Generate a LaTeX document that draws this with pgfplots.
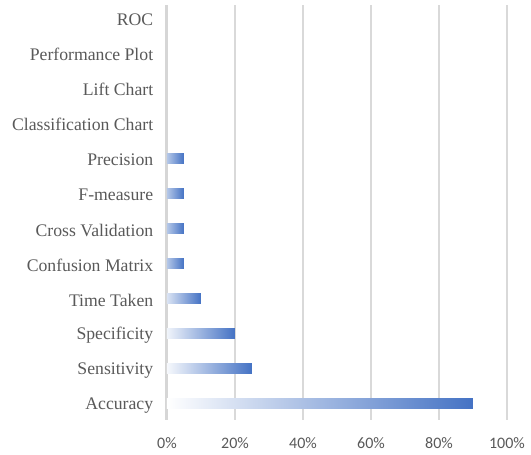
\documentclass[border=0pt]{standalone}
\usepackage{fontspec}
\setmainfont{Liberation Serif}
\newfontfamily\tnr{Liberation Serif}
\newfontfamily\calibri{Carlito}
\usepackage{pgfplots}
\pgfplotsset{compat=1.18}
\definecolor{barblue}{HTML}{4472C4}
\definecolor{gridgray}{HTML}{D9D9D9}
\definecolor{axgray}{HTML}{D6D6D6}
\definecolor{txtgray}{HTML}{595959}
\pgfplotsset{gbar/.style={draw=none, bar shift=0pt, left color=barblue!#1, right color=barblue}}
\begin{document}
\begin{tikzpicture}
\useasboundingbox (-167pt,-35pt) rectangle (364pt,420pt);
\begin{axis}[
  at={(0pt,0pt)}, anchor=south west,
  scale only axis,
  width=340pt, height=415pt,
  xmin=0, xmax=100,
  ymin=-0.456, ymax=11.37,
  xbar, bar width=10pt,
  axis line style={draw=none},
  xtick={0,20,40,60,80,100},
  xticklabels={0\%,20\%,40\%,60\%,80\%,100\%},
  xticklabel style={font=\calibri\fontsize{16}{18}\selectfont, text=txtgray},
  xtick style={draw=none},
  ytick={0,...,11},
  yticklabels={Accuracy,Sensitivity,Specificity,Time Taken,Confusion Matrix,Cross Validation,F-measure,Precision,Classification Chart,Lift Chart,Performance Plot,ROC},
  yticklabel style={font=\tnr\fontsize{17.7}{19}\selectfont, text=txtgray, yshift=-1.5pt},
  ytick style={draw=none},
  xmajorgrids, major grid style={gridgray, line width=1.5pt},
  xticklabel shift=14pt,
  yticklabel shift=6pt,
  clip=false,
]
\draw[axgray, line width=3pt] (axis cs:0,-0.456) -- (axis cs:0,11.37);
\addplot[gbar=0] coordinates {(90,0)};
\addplot[gbar=5] coordinates {(25,1)};
\addplot[gbar=8] coordinates {(20,2)};
\addplot[gbar=20] coordinates {(10,3)};
\addplot[gbar=40] coordinates {(5,4)};
\addplot[gbar=40] coordinates {(5,5)};
\addplot[gbar=40] coordinates {(5,6)};
\addplot[gbar=40] coordinates {(5,7)};
\end{axis}
\end{tikzpicture}
\end{document}
